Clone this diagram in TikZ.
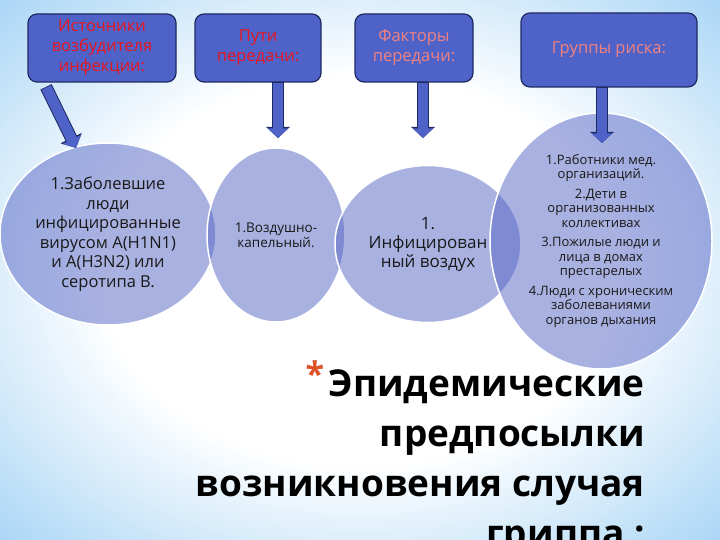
\documentclass[tikz,border=0pt]{standalone}
\usepackage{fontspec}
\setmainfont{Open Sans}
\usetikzlibrary{shapes.geometric,arrows.meta}
\definecolor{boxblue}{RGB}{79,98,200}
\definecolor{boxline}{RGB}{30,42,100}
\definecolor{bubble}{RGB}{84,100,197}
\definecolor{hdrred}{RGB}{232,22,30}
\definecolor{hdrpink}{RGB}{242,130,127}
\definecolor{bgblue}{RGB}{158,208,244}
\definecolor{astred}{RGB}{222,82,42}
\pgfdeclareradialshading{bgshade}{\pgfpoint{0bp}{0bp}}{color(0bp)=(white); color(18bp)=(white); color(38bp)=(bgblue); color(50bp)=(bgblue)}
\tikzset{
  hdr/.style={rectangle, rounded corners=9pt, draw=boxline, line width=1.2pt, fill=boxblue, align=center, inner sep=2pt, font=\fontsize{16.5}{20}\selectfont},
  bubble/.style={ellipse, inner sep=0pt, fill=bubble, fill opacity=0.5, draw=white, draw opacity=1, text opacity=1, line width=1.5pt, align=center, text=black!90},
  barrow/.style={draw=boxblue, line width=10.5pt, -{Triangle[width=20pt,length=9.5pt]}, preaction={draw=boxline, line width=12.5pt, shorten <=-0.8pt, -{Triangle[width=23pt,length=11pt]}}},
  ttl/.style={align=right, inner sep=0pt, font=\fontsize{37}{50}\selectfont\bfseries}
}
\begin{document}
\begin{tikzpicture}[x=1pt,y=-1pt]
\useasboundingbox (0,0) rectangle (720,540);
\clip (0,0) rectangle (720,540);
\shade[shading=bgshade] (0,0) rectangle (720,540);
% bubbles
\node[bubble, minimum width=216pt, minimum height=182pt, font=\fontsize{16.5}{19.5}\selectfont] (circ0) at (108,234) {1.Заболевшие\\люди\\инфицированные\\вирусом A(H1N1)\\и A(H3N2) или\\серотипа B.};
\node[bubble, minimum width=138pt, minimum height=174pt, font=\fontsize{13.5}{15}\selectfont] (circ1) at (276,235) {1.Воздушно-\\капельный.};
\node[bubble, minimum width=186pt, minimum height=157pt, font=\fontsize{17}{19}\selectfont] (circ2) at (428,244) {1.\\Инфицирован\\ный воздух};
\node[bubble, minimum width=222pt, minimum height=256pt, font=\fontsize{13}{14.5}\selectfont] (circ3) at (601,241) {1.Работники мед.\\организаций.\\[5pt]2.Дети в\\организованных\\коллективах\\[5pt]3.Пожилые люди и\\лица в домах\\престарелых\\[5pt]4.Люди с хроническим\\заболеваниями\\органов дыхания};
% headers
\coordinate (tip0) at (76,148);
\coordinate (tip1) at (278,138);
\coordinate (tip2) at (423,138);
\coordinate (tip3) at (602,143);
\node[hdr, text=hdrred, minimum width=148pt, minimum height=68pt] (box0) at (102,48) {Источники\\возбудителя\\инфекции:};
\node[hdr, text=hdrred, minimum width=126pt, minimum height=68pt] (box1) at (258,48) {Пути\\передачи:};
\node[hdr, text=hdrpink, minimum width=118pt, minimum height=68pt] (box2) at (414,48) {Факторы\\передачи:};
\node[hdr, text=hdrpink, minimum width=176pt, minimum height=74pt] (box3) at (609,50) {Группы риска:};
\draw[barrow] ([shift={(19pt,-5pt)}]box0.south west) -- (tip0);
\draw[barrow] ([xshift=20pt]box1.south) -- (tip1);
\draw[barrow] ([xshift=9pt]box2.south) -- (tip2);
\draw[barrow] ([xshift=-7pt]box3.south) -- (tip3);
% title
\node[ttl, anchor=north east] (title) at (645,370) {Эпидемические\\предпосылки\\возникновения случая\\гриппа :};
\node[inner sep=0pt, text=astred, font=\fontsize{34}{34}\selectfont\bfseries] (ast) at (315,374) {*};
\end{tikzpicture}
\end{document}
